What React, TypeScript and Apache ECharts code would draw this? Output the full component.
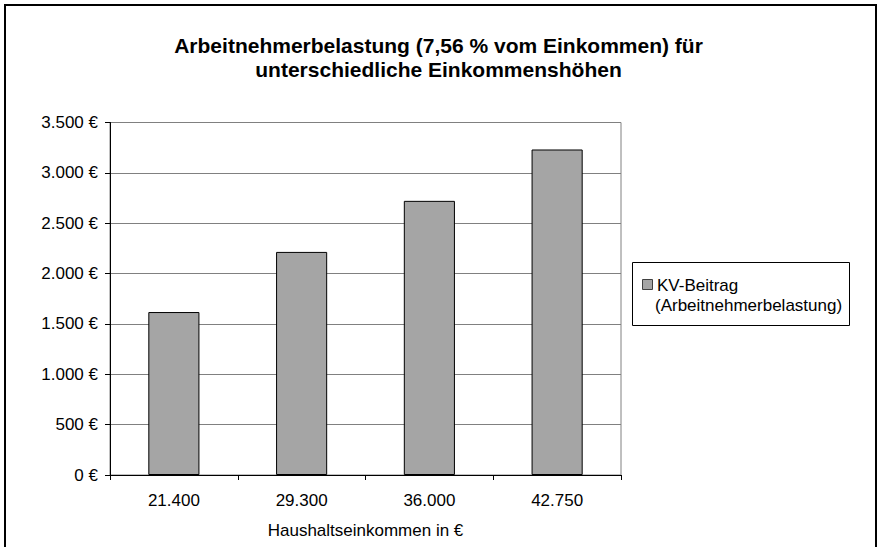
import React, { useEffect, useRef } from "react";
import * as echarts from "echarts";

const categories = ["21.400", "29.300", "36.000", "42.750"];
const values = [1618, 2215, 2722, 3232];
const seriesName = "KV-Beitrag (Arbeitnehmerbelastung)";
const legendLines = ["KV-Beitrag", "(Arbeitnehmerbelastung)"];
const titleText = "Arbeitnehmerbelastung (7,56 % vom Einkommen) für\nunterschiedliche Einkommenshöhen";
const xAxisName = "Haushaltseinkommen in €";

const FONT = "'Liberation Sans', Arial, sans-serif";

function fmtEuro(v: number) {
  const s = Math.round(v).toString().replace(/\B(?=(\d{3})+(?!\d))/g, ".");
  return s + " €";
}

export default function App() {
  const ref = useRef<HTMLDivElement>(null);
  useEffect(() => {
    if (!ref.current) return;
    const chart = echarts.init(ref.current, null, { renderer: "svg" });
    chart.setOption({
      animation: false,
      backgroundColor: "#ffffff",
      textStyle: { fontFamily: FONT },
      title: {
        text: titleText,
        left: "center",
        top: 28,
        textStyle: {
          fontFamily: FONT,
          fontSize: 21,
          fontWeight: "bold",
          lineHeight: 24,
          color: "#000",
        },
      },
      grid: {
        left: 110,
        right: 256,
        top: 122.5,
        bottom: 72,
        show: true,
        borderColor: "#808080",
        borderWidth: 1,
        backgroundColor: "transparent",
      },
      xAxis: {
        type: "category",
        data: categories,
        name: xAxisName,
        nameLocation: "middle",
        nameGap: 47,
        nameTextStyle: { fontFamily: FONT, fontSize: 17, color: "#000" },
        axisLine: { lineStyle: { color: "#000", width: 1 } },
        axisTick: { show: true, length: 5, alignWithLabel: false, lineStyle: { color: "#000" } },
        axisLabel: { fontFamily: FONT, fontSize: 17, color: "#000", margin: 17 },
        splitLine: { show: false },
      },
      yAxis: {
        type: "value",
        min: 0,
        max: 3500,
        interval: 500,
        axisLine: { show: true, lineStyle: { color: "#000", width: 1 } },
        axisTick: { show: true, length: 5, lineStyle: { color: "#000" } },
        axisLabel: {
          fontFamily: FONT,
          fontSize: 17,
          color: "#000",
          margin: 12,
          formatter: (v: number) => fmtEuro(v),
        },
        splitLine: { show: true, lineStyle: { color: "#808080", width: 1 } },
      },
      series: [
        {
          name: seriesName,
          type: "bar",
          data: values,
          barWidth: "40%",
          itemStyle: { color: "#a5a5a5", borderColor: "#000", borderWidth: 1 },
        },
      ],
      graphic: [
        {
          type: "rect",
          shape: { x: 5, y: 5, width: 871, height: 620 },
          style: { fill: "none", stroke: "#000", lineWidth: 2 },
          silent: true,
          z: 100,
        },
        {
          type: "rect",
          shape: { x: 632.5, y: 262.5, width: 217, height: 63 },
          style: { fill: "#fff", stroke: "#000", lineWidth: 1 },
          z: 10,
        },
        {
          type: "rect",
          shape: { x: 642.5, y: 279.5, width: 10, height: 10 },
          style: { fill: "#a5a5a5", stroke: "#404040", lineWidth: 1 },
          z: 11,
        },
        {
          type: "text",
          x: 657,
          y: 285.5,
          style: {
            text: legendLines[0],
            fontFamily: FONT,
            fontSize: 17,
            fill: "#000",
            verticalAlign: "middle",
            align: "left",
          },
          z: 11,
        },
        {
          type: "text",
          x: 655,
          y: 305,
          style: {
            text: legendLines[1],
            fontFamily: FONT,
            fontSize: 17,
            fill: "#000",
            verticalAlign: "middle",
            align: "left",
          },
          z: 11,
        },
      ],
    });
    return () => chart.dispose();
  }, []);
  return (
    <div
      ref={ref}
      style={{ position: "absolute", left: 0, top: 0, width: 877, height: 547 }}
    />
  );
}
